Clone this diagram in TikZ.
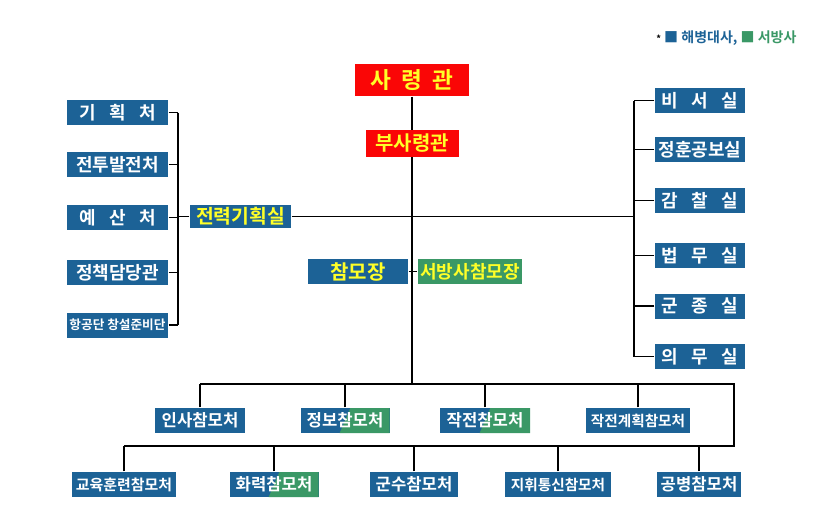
\documentclass[tikz,border=0pt]{standalone}
\usepackage{fontspec}
\setmainfont{Noto Sans CJK KR}[BoldFont={Noto Sans CJK KR Bold}]
\definecolor{unitblue}{RGB}{28,98,150}
\definecolor{westgreen}{RGB}{58,152,102}
\definecolor{hqred}{RGB}{250,6,6}
\definecolor{hiyellow}{RGB}{255,255,40}

\begin{document}
\begin{tikzpicture}[x=0.75pt, y=-0.75pt, line width=0.8pt,
  fsz/.style={font=\bfseries\fontsize{#1}{#1}\selectfont},
  wd/.style={minimum width=#1*0.75pt},
  box/.style={fill=unitblue, text=white, inner sep=0pt, fsz=13.5, minimum height=18.75pt},
  hq/.style={box, fill=hqred, text=hiyellow},
  west/.style={box, fill=westgreen, text=hiyellow},
  split/.style={box, path picture={
    \fill[westgreen] ([xshift=-4pt]path picture bounding box.south)
      -- ([xshift=4pt]path picture bounding box.north)
      -- (path picture bounding box.north east)
      -- (path picture bounding box.south east) -- cycle;}}]
\useasboundingbox (0,0) rectangle (822,526);

\node[fsz=10.5, inner sep=0pt, anchor=east] (legend) at (797,38)
  {{\fontsize{7}{7}\selectfont *}\ \textcolor{unitblue}{■ 해병대사,} \textcolor{westgreen}{■ 서방사}};

% command
\node[hq, wd=114, minimum height=24pt, fsz=17] (cmd) at (412,80) {사\hspace{0.45em}령\hspace{0.45em}관};
\node[hq, wd=93, minimum height=20pt, fsz=15] (dep) at (412,143.5) {부사령관};

% left side
\node[box, wd=101] (plans) at (117.5,112.5) {기\hspace{0.75em}획\hspace{0.75em}처};
\node[box, wd=101] (devel) at (117.5,164.5) {전투발전처};
\node[box, wd=101] (budget) at (117.5,217.5) {예\hspace{0.75em}산\hspace{0.75em}처};
\node[box, wd=101] (policy) at (117.5,272.5) {정책담당관};
\node[box, wd=101, fsz=9.5] (avia) at (117.5,325) {항공단 창설준비단};
\node[box, wd=101, minimum height=17.25pt, fsz=14.5, text=hiyellow] (force) at (240.5,216.5) {전력기획실};

% right side
\node[box, wd=90] (secr) at (700,100.5) {비\hspace{0.75em}서\hspace{0.75em}실};
\node[box, wd=90] (pub) at (700,149.5) {정훈공보실};
\node[box, wd=90] (insp) at (700,200.5) {감\hspace{0.75em}찰\hspace{0.75em}실};
\node[box, wd=90] (legal) at (700,255.5) {법\hspace{0.75em}무\hspace{0.75em}실};
\node[box, wd=90] (chap) at (700,306) {군\hspace{0.75em}종\hspace{0.75em}실};
\node[box, wd=90] (med) at (700,356.5) {의\hspace{0.75em}무\hspace{0.75em}실};

% chiefs of staff
\node[box, wd=100, fsz=15, text=hiyellow] (cos) at (358,271.5) {참모장};
\node[west, wd=104, fsz=13.5] (wcos) at (470,271.5) {서방사참모장};

% staff
\node[box, wd=90, fsz=12.5] (pers) at (200,420.5) {인사참모처};
\node[split, wd=89, fsz=12.5] (intel) at (345,420.5) {정보참모처};
\node[split, wd=90, fsz=12.5] (ops) at (485,420.5) {작전참모처};
\node[box, wd=104, fsz=11] (opplan) at (638,420.5) {작전계획참모처};
\node[box, wd=104, fsz=11.2] (train) at (124,484.5) {교육훈련참모처};
\node[split, wd=89, fsz=12.5] (fire) at (274,484.5) {화력참모처};
\node[box, wd=88, fsz=12.5] (logi) at (414,484.5) {군수참모처};
\node[box, wd=106, fsz=11] (comm) at (558,484.5) {지휘통신참모처};
\node[box, wd=84, fsz=12.5] (engr) at (699,484.5) {공병참모처};

\coordinate (ltop) at (178,112.5);
\coordinate (lbot) at (178,325);
\coordinate (rtop) at (634,100.5);
\coordinate (rbot) at (634,356.5);
\coordinate (bus) at (412,384);
\coordinate (bwa) at (200,384);
\coordinate (bea) at (734,384);
\coordinate (beb) at (734,446);
\coordinate (bwb) at (124,446);

\draw (cmd) -- (dep);
\draw (dep) -- (bus);
\draw (ltop) -- (lbot);
\foreach \n in {plans, devel, budget, policy, avia}
  \draw (\n.east) -- (\n.east -| ltop);
\draw (force.west) -- (force.west -| ltop);
\draw (force.east) -- (force.east -| rtop);
\draw (rtop) -- (rbot);
\foreach \n in {secr, pub, insp, legal, chap, med}
  \draw (\n.west) -- (\n.west -| rtop);
\draw (cos) -- (wcos);
\draw (bwa) -- (bea) -- (beb) -- (bwb);
\foreach \n in {pers, intel, ops, opplan}
  \draw (\n.north) -- (\n.north |- bwa);
\foreach \n in {train, fire, logi, comm, engr}
  \draw (\n.north) -- (\n.north |- bwb);
\end{tikzpicture}
\end{document}
